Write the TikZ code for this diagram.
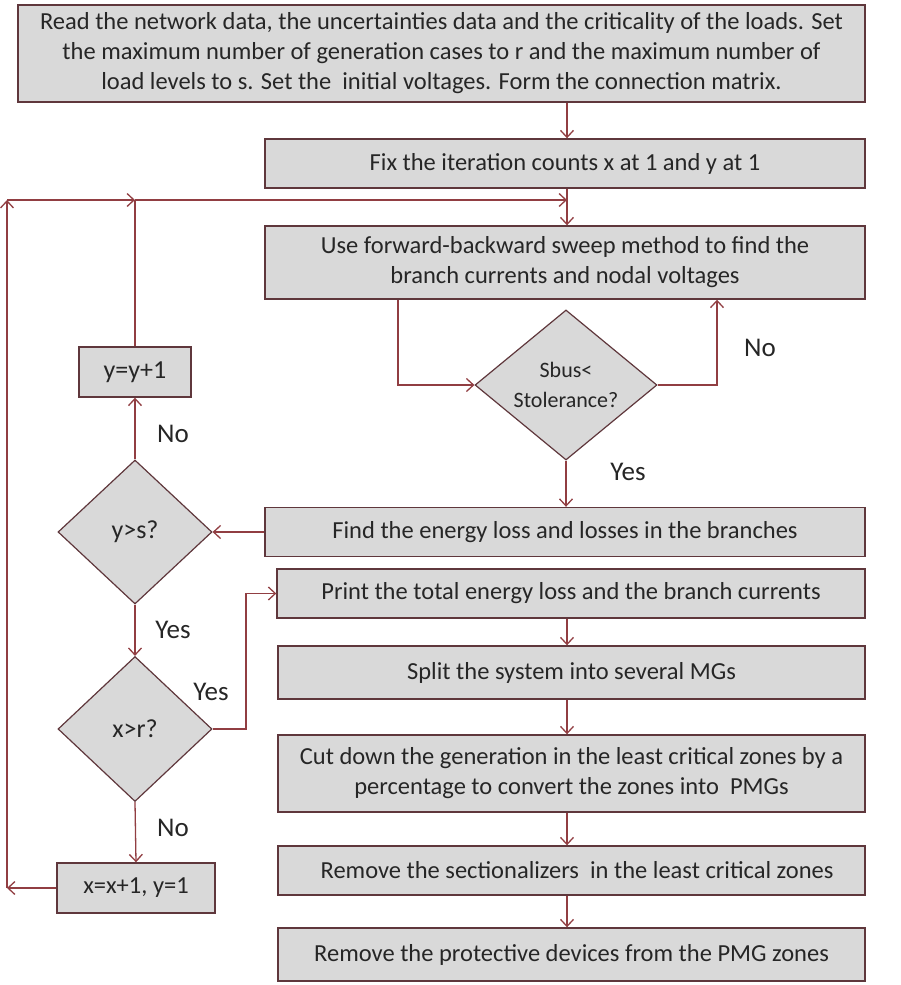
\documentclass[tikz,border=0pt]{standalone}
\usepackage{fontspec}
\setmainfont{Carlito}
\usetikzlibrary{arrows.meta,shapes.geometric,calc}
\definecolor{BoxEdge}{RGB}{95,55,60}
\definecolor{BoxFill}{RGB}{217,217,217}
\definecolor{FlowLine}{RGB}{145,62,66}
\definecolor{InkGray}{RGB}{38,38,38}
\tikzset{
  procbox/.style={rectangle,draw=BoxEdge,fill=BoxFill,line width=1.4pt,inner sep=2pt,align=center,text=InkGray,font=\fontsize{24.5}{30}\selectfont},
  decision/.style={diamond,draw=BoxEdge,fill=BoxFill,line width=1.2pt,inner sep=0pt,align=center,text=InkGray,font=\fontsize{26}{30}\selectfont},
  flow/.style={-{Straight Barb[length=7pt,width=13pt]},draw=FlowLine,line width=1.3pt},
  flowplain/.style={draw=FlowLine,line width=1.3pt},
  branchlabel/.style={text=InkGray,font=\fontsize{27}{30}\selectfont}
}

\begin{document}
\begin{tikzpicture}[x=1pt,y=-1pt]
\useasboundingbox (0,0) rectangle (900,985);
\coordinate (spine) at (567,0);
\coordinate (leftdrop) at (398,0);
\coordinate (rightrise) at (717,0);
\coordinate (yesjog) at (246,0);
\coordinate (loopcorner) at (7,200);

% main column
\node[procbox,minimum width=847pt,minimum height=97pt] (readbox) at (441.5,53.5) {Read the network data, the uncertainties data and the criticality of the loads. Set\\the maximum number of generation cases to r and the maximum number of\\load levels to s. Set the \ initial voltages. Form the connection matrix.};
\node[procbox,minimum width=600pt,minimum height=49pt] (fixbox) at (565,163.5) {Fix the iteration counts x at 1 and y at 1};
\node[procbox,minimum width=600pt,minimum height=73pt] (sweepbox) at (565,262.5) {Use forward-backward sweep method to find the\\branch currents and nodal voltages};
\node[decision,minimum width=182pt,minimum height=145pt,font=\fontsize{22}{30}\selectfont] (tolcheck) at (566,385) {Sbus<\\Stolerance?};
\node[procbox,minimum width=600pt,minimum height=49pt] (lossbox) at (565,532) {Find the energy loss and losses in the branches};
\node[procbox,minimum width=588pt,minimum height=49pt] (printbox) at (571,593.5) {Print the total energy loss and the branch currents};
\node[procbox,minimum width=587pt,minimum height=53pt] (splitbox) at (571.5,672.5) {Split the system into several MGs};
\node[procbox,minimum width=587pt,minimum height=77pt] (cutbox) at (571.5,773.5) {Cut down the generation in the least critical zones by a\\percentage to convert the zones into \ PMGs};
\node[procbox,minimum width=587pt,minimum height=49pt] (sectbox) at (571.5,870.5) {\ \ Remove the sectionalizers \ in the least critical zones};
\node[procbox,minimum width=587pt,minimum height=53pt] (protbox) at (571.5,954.5) {Remove the protective devices from the PMG zones};

% counter column
\node[procbox,minimum width=112pt,minimum height=50pt,font=\fontsize{26}{30}\selectfont] (yinc) at (135,372) {y=y+1};
\node[decision,minimum width=154pt,minimum height=144pt] (ycheck) at (135,532) {y>s?};
\node[decision,minimum width=154pt,minimum height=145pt] (xcheck) at (135,729) {x>r?};
\node[procbox,minimum width=158pt,minimum height=50pt] (xinc) at (136,888) {x=x+1, y=1};

\draw[flow] (readbox.south -| spine) -- (fixbox.north -| spine);
\draw[flow] (fixbox.south -| spine) -- (sweepbox.north -| spine);
\draw[flow] (sweepbox.south -| leftdrop) |- (tolcheck.west);
\draw[flow] (tolcheck.east) -| (sweepbox.south -| rightrise);
\draw[flow] (tolcheck.south) -- (lossbox.north -| tolcheck.south);
\draw[flow] (lossbox.west) -- (ycheck.east);
\draw[flow] (ycheck.north) -- (yinc.south);
\draw[flow] (ycheck.south) -- (xcheck.north);
\draw[flow] (xcheck.south) -- (xinc.north);
\draw[flow] (xcheck.east) -- (xcheck.east -| yesjog) |- (printbox.west);
\foreach \from/\to in {printbox/splitbox,splitbox/cutbox,cutbox/sectbox,sectbox/protbox}
  \draw[flow] (\from.south -| spine) -- (\to.north -| spine);

% outer loop back to the sweep
\draw[flow] (xinc.west) -- (xinc.west -| loopcorner);
\draw[flow] (xinc.west -| loopcorner) -- (loopcorner);
\draw[flow] (loopcorner) -- (yinc.north |- loopcorner);
\draw[flowplain] (yinc.north) -- (yinc.north |- loopcorner);
\draw[flow] (yinc.north |- loopcorner) -- (spine |- loopcorner);

\node[branchlabel] (nosweep) at (760,348) {No};
\node[branchlabel] (yessweep) at (628,472) {Yes};
\node[branchlabel] (noy) at (173,434) {No};
\node[branchlabel] (yesy) at (173,630) {Yes};
\node[branchlabel] (yesx) at (211,692) {Yes};
\node[branchlabel] (nox) at (173,828) {No};
\end{tikzpicture}
\end{document}
